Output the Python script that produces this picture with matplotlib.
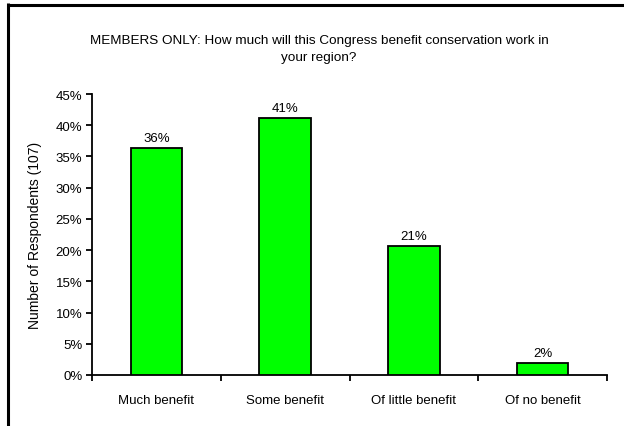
import matplotlib
matplotlib.use("Agg")
import matplotlib.pyplot as plt
from matplotlib.lines import Line2D
from matplotlib.ticker import FuncFormatter, FixedLocator

plt.rcParams['font.family'] = ['Liberation Sans', 'DejaVu Sans']

categories = ["Much benefit", "Some benefit", "Of little benefit", "Of no benefit"]
shares = [36.4, 41.1, 20.6, 1.9]          # percent of respondents
y_ticks = [0, 5, 10, 15, 20, 25, 30, 35, 40, 45]
title = "MEMBERS ONLY: How much will this Congress benefit conservation work in\nyour region?"
y_label = "Number of Respondents (107)"

FS = 9.5
W, H = 624, 427
fig = plt.figure(figsize=(W / 100, H / 100), dpi=100)
fig.patch.set_facecolor("white")

ax = fig.add_axes([92 / W, 1 - 376 / H, (607 - 92) / W, (376 - 95) / H])
x = list(range(len(categories)))
bars = ax.bar(x, shares, width=0.4, color="#00FF00", edgecolor="black", linewidth=1.3, zorder=3)

for b, v in zip(bars, shares):
    ax.annotate(f"{v:.0f}%", (b.get_x() + b.get_width() / 2, v),
                xytext=(0, 3), textcoords="offset points",
                ha="center", va="bottom", fontsize=FS, color="black")

ax.set_xlim(-0.5, len(categories) - 0.5)
ax.set_ylim(0, 45)
ax.set_yticks(y_ticks)
ax.yaxis.set_major_formatter(FuncFormatter(lambda v, p: f"{v:.0f}%"))

# category boundaries carry the tick marks, centres carry the labels
ax.xaxis.set_major_locator(FixedLocator([i - 0.5 for i in range(len(categories) + 1)]))
ax.xaxis.set_major_formatter(FuncFormatter(lambda v, p: ""))
ax.xaxis.set_minor_locator(FixedLocator(x))
ax.set_xticklabels(categories, minor=True)
ax.tick_params(axis="x", which="major", length=4, width=1.3, direction="out")
ax.tick_params(axis="x", which="minor", length=0, pad=13.5, labelsize=FS)
ax.tick_params(axis="y", length=4, width=1.3, direction="out", pad=3, labelsize=FS)

for s in ("top", "right"):
    ax.spines[s].set_visible(False)
for s in ("left", "bottom"):
    ax.spines[s].set_linewidth(1.3)

ax.set_ylabel(y_label, fontsize=10)
ax.yaxis.set_label_coords((42 - 92) / (607 - 92), (376 - 235) / (376 - 95))

fig.text(319 / W, 1 - 49.5 / H, title, ha="center", va="center",
         fontsize=9.7, linespacing=1.45)

# frame on the top and left edges
fig.add_artist(Line2D([8 / W, 8 / W], [0, 1 - 4 / H], transform=fig.transFigure,
                      color="black", linewidth=2.2, solid_capstyle="butt"))
fig.add_artist(Line2D([6.5 / W, 1], [1 - 5.5 / H, 1 - 5.5 / H], transform=fig.transFigure,
                      color="black", linewidth=2.2, solid_capstyle="butt"))

fig.savefig("out.png", dpi=100)
